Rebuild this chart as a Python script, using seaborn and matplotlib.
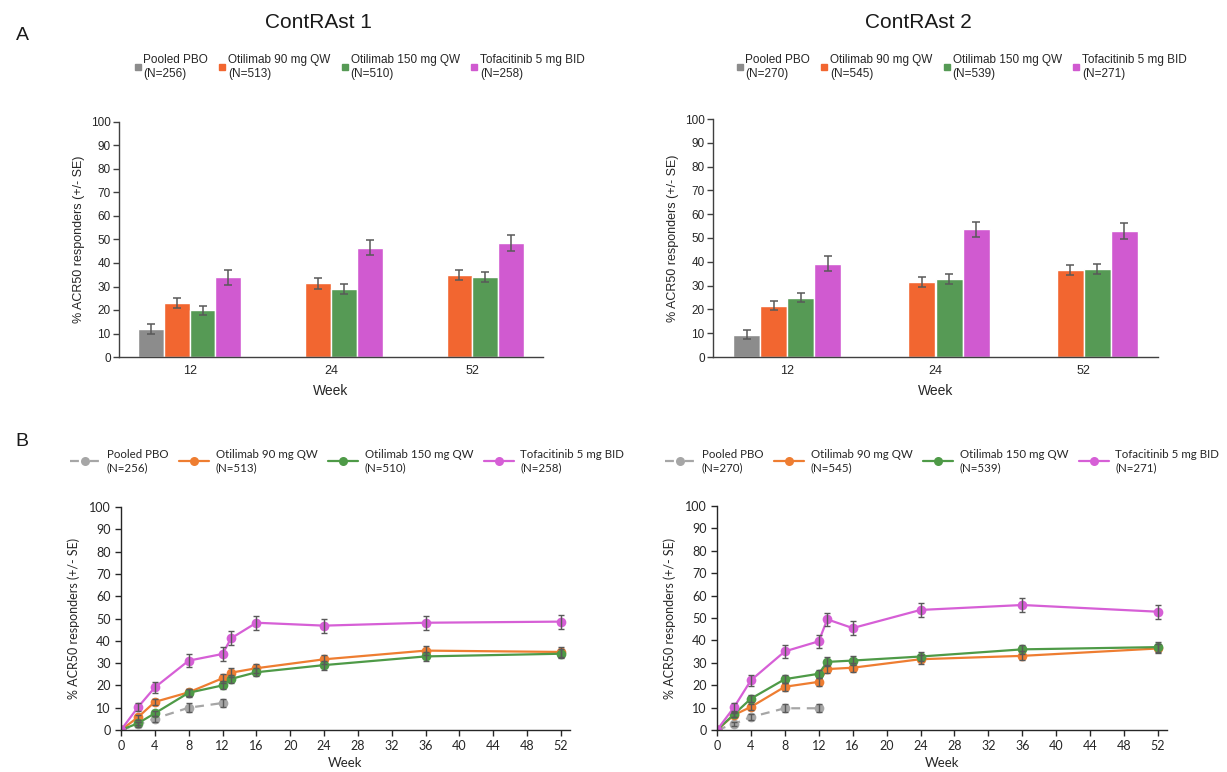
import numpy as np
import pandas as pd
import matplotlib
matplotlib.use("Agg")
import matplotlib.pyplot as plt
from matplotlib.lines import Line2D
import seaborn as sns

# ---------------- data ----------------
arms = ["Pooled PBO", "Otilimab 90 mg QW", "Otilimab 150 mg QW", "Tofacitinib 5 mg BID"]
n_c1 = ["256", "513", "510", "258"]
n_c2 = ["270", "545", "539", "271"]
bar_weeks = ["12", "24", "52"]

# Panel A bars (ContRAst 1)
c1_bar_pbo = [11.9, np.nan, np.nan]
c1_bar_90 = [23.1, 31.3, 34.9]
c1_bar_150 = [19.9, 28.9, 34.1]
c1_bar_tofa = [33.9, 46.5, 48.4]
c1_bar_se_pbo = [2.2, np.nan, np.nan]
c1_bar_se_90 = [2.2, 2.3, 2.3]
c1_bar_se_150 = [2.0, 2.2, 2.2]
c1_bar_se_tofa = [3.1, 3.3, 3.4]

# Panel A bars (ContRAst 2)
c2_bar_pbo = [9.4, np.nan, np.nan]
c2_bar_90 = [21.6, 31.5, 36.4]
c2_bar_150 = [24.9, 32.8, 37.0]
c2_bar_tofa = [39.2, 53.6, 52.8]
c2_bar_se_pbo = [1.9, np.nan, np.nan]
c2_bar_se_90 = [2.0, 2.2, 2.1]
c2_bar_se_150 = [2.0, 2.2, 2.2]
c2_bar_se_tofa = [3.1, 3.2, 3.4]

# Panel B lines
pbo_weeks = [0, 2, 4, 8, 12]
act_weeks = [0, 2, 4, 8, 12, 13, 16, 24, 36, 52]

c1_line_pbo = [0, 2.5, 5.1, 10.0, 12.1]
c1_line_90 = [0, 5.7, 12.6, 16.9, 23.2, 25.7, 27.7, 31.7, 35.6, 35.0]
c1_line_150 = [0, 3.0, 7.5, 16.7, 20.0, 22.9, 25.9, 29.1, 33.0, 34.2]
c1_line_tofa = [0, 10.2, 19.1, 31.1, 34.1, 41.1, 48.1, 46.8, 48.1, 48.6]
c1_line_se_pbo = [0, 1.0, 1.4, 1.9, 2.0]
c1_line_se_90 = [0, 1.0, 1.5, 1.7, 1.9, 1.9, 2.0, 2.1, 2.1, 2.1]
c1_line_se_150 = [0, 0.8, 1.2, 1.7, 1.8, 1.9, 1.9, 2.0, 2.1, 2.1]
c1_line_se_tofa = [0, 1.9, 2.4, 2.9, 3.0, 3.1, 3.1, 3.1, 3.1, 3.1]

c2_line_pbo = [0, 2.7, 5.8, 9.7, 9.7]
c2_line_90 = [0, 6.7, 10.3, 19.3, 21.5, 27.2, 27.8, 31.6, 33.1, 36.4]
c2_line_150 = [0, 7.0, 14.0, 22.7, 25.1, 30.4, 31.0, 32.8, 36.0, 37.0]
c2_line_tofa = [0, 10.1, 22.2, 35.1, 39.6, 49.4, 45.5, 53.6, 55.8, 52.8]
c2_line_se_pbo = [0, 1.0, 1.4, 1.8, 1.8]
c2_line_se_90 = [0, 1.1, 1.3, 1.7, 1.8, 1.9, 1.9, 2.0, 2.0, 2.1]
c2_line_se_150 = [0, 1.1, 1.5, 1.8, 1.9, 2.0, 2.0, 2.0, 2.1, 2.1]
c2_line_se_tofa = [0, 1.8, 2.5, 2.9, 3.0, 3.0, 3.0, 3.0, 3.1, 3.1]

bar_colors = ["#8c8c8c", "#f26630", "#569a55", "#d05ad0"]
line_colors = ["#a6a6a6", "#ee7d31", "#4e9a47", "#d65fd6"]
err_color = "#595959"

# ---------------- helpers ----------------
sns.set_style("white")
plt.rcParams["font.family"] = ["Liberation Sans", "DejaVu Sans"]
LINE_FONT = ["Lato", "DejaVu Sans"]

fig = plt.figure(figsize=(12.27, 7.72), dpi=100)


def bar_panel(rect, vals, ses, ns):
    ax = fig.add_axes(rect)
    rows = []
    for arm, v, s in zip(arms, vals, ses):
        for w, vv, ss in zip(bar_weeks, v, s):
            rows.append({"Week": w, "Arm": arm, "val": vv, "se": ss})
    df = pd.DataFrame(rows)
    sns.barplot(data=df, x="Week", y="val", hue="Arm", hue_order=arms,
                order=bar_weeks, palette=bar_colors, width=0.73, gap=0,
                errorbar=None, legend=False, ax=ax, saturation=1)
    # SE bars on each drawn bar
    for arm, cont in zip(arms, ax.containers):
        sub = df[df["Arm"] == arm]
        for bar in cont:
            xc = bar.get_x() + bar.get_width() / 2
            h = bar.get_height()
            if np.isnan(h):
                continue
            idx = int(round(xc))
            se = sub[sub["Week"] == bar_weeks[idx]]["se"].values[0]
            ax.errorbar(xc, h, yerr=se, fmt="none", ecolor=err_color,
                        elinewidth=1.1, capsize=3, capthick=1.1)
    ax.set_ylim(0, 100)
    ax.set_yticks(range(0, 101, 10))
    ax.set_xlim(-0.5, 2.5)
    for sp in ["top", "right"]:
        ax.spines[sp].set_visible(False)
    for sp in ["left", "bottom"]:
        ax.spines[sp].set_color("#404040")
        ax.spines[sp].set_linewidth(1.0)
    ax.tick_params(axis="y", left=True, length=4, width=1, color="#404040",
                   labelsize=8.5, labelcolor="#262626", pad=2)
    ax.tick_params(axis="x", bottom=False, labelsize=9, labelcolor="#262626", pad=2)
    ax.set_ylabel("% ACR50 responders (+/- SE)", fontsize=9, color="#262626", labelpad=4)
    ax.set_xlabel("Week", fontsize=10, color="#262626", labelpad=5)
    return ax


def line_panel(rect, series, ses, ns):
    ax = fig.add_axes(rect)
    rows = []
    for arm, v, s in zip(arms, series, ses):
        wk = pbo_weeks if arm == arms[0] else act_weeks
        for w, vv, ss in zip(wk, v, s):
            rows.append({"Week": w, "Arm": arm, "val": vv, "se": ss})
    df = pd.DataFrame(rows)
    sns.lineplot(data=df, x="Week", y="val", hue="Arm", hue_order=arms,
                 style="Arm", style_order=arms,
                 dashes={arms[0]: (4, 3), arms[1]: "", arms[2]: "", arms[3]: ""},
                 markers={a: "o" for a in arms}, markersize=7, markeredgewidth=0,
                 palette=line_colors, linewidth=1.6, legend=False, ax=ax,
                 errorbar=None)
    for arm in arms:
        sub = df[(df["Arm"] == arm) & (df["Week"] > 0)]
        ax.errorbar(sub["Week"], sub["val"], yerr=sub["se"], fmt="none",
                    ecolor=err_color, elinewidth=1.0, capsize=2.5, capthick=1.0,
                    zorder=5)
    ax.set_ylim(0, 100)
    ax.set_yticks(range(0, 101, 10))
    ax.set_xlim(0, 53)
    ax.set_xticks(range(0, 53, 4))
    for sp in ["top", "right"]:
        ax.spines[sp].set_visible(False)
    for sp in ["left", "bottom"]:
        ax.spines[sp].set_color("#262626")
        ax.spines[sp].set_linewidth(1.0)
    ax.tick_params(axis="both", length=4, width=1, color="#262626",
                   labelsize=9, labelcolor="#262626", bottom=True, left=True)
    for lab in ax.get_xticklabels() + ax.get_yticklabels():
        lab.set_family(LINE_FONT)
    ax.set_ylabel("% ACR50 responders (+/- SE)", fontsize=9, color="#262626",
                  family=LINE_FONT, labelpad=6)
    ax.set_xlabel("Week", fontsize=9.5, color="#262626",
                  family=LINE_FONT, labelpad=3)
    return ax


def bar_legend(x, y, ns):
    handles = [Line2D([], [], marker="s", linestyle="none", color=c, markersize=5)
               for c in bar_colors]
    labels = [f"{a}\n(N={n})" for a, n in zip(arms, ns)]
    fig.legend(handles, labels, loc="upper left", bbox_to_anchor=(x, y),
               ncol=4, frameon=False, fontsize=8.5, handlelength=0.6,
               handletextpad=0.2, columnspacing=0.9, labelcolor="#262626",
               borderaxespad=0, borderpad=0)


def line_legend(x, y, ns):
    handles = []
    for i, c in enumerate(line_colors):
        ls = (0, (4, 5)) if i == 0 else "-"
        handles.append(Line2D([], [], marker="o", linestyle=ls, color=c,
                              markersize=6.5, markeredgewidth=0, linewidth=1.6))
    labels = [f"{a}\n(N={n})" for a, n in zip(arms, ns)]
    fig.legend(handles, labels, loc="upper left", bbox_to_anchor=(x, y),
               ncol=4, frameon=False, handlelength=2.6, handletextpad=0.6,
               columnspacing=0.9, labelcolor="#262626", borderaxespad=0,
               borderpad=0, prop={"family": LINE_FONT, "size": 8.3})


W, H = 1227, 772


def rect(x0, x1, ytop, ybot):
    return [x0 / W, 1 - ybot / H, (x1 - x0) / W, (ybot - ytop) / H]


bar_panel(rect(119, 543, 122, 357),
          [c1_bar_pbo, c1_bar_90, c1_bar_150, c1_bar_tofa],
          [c1_bar_se_pbo, c1_bar_se_90, c1_bar_se_150, c1_bar_se_tofa], n_c1)
bar_panel(rect(713, 1158, 119, 357),
          [c2_bar_pbo, c2_bar_90, c2_bar_150, c2_bar_tofa],
          [c2_bar_se_pbo, c2_bar_se_90, c2_bar_se_150, c2_bar_se_tofa], n_c2)

line_panel(rect(121, 569.5, 507, 730),
           [c1_line_pbo, c1_line_90, c1_line_150, c1_line_tofa],
           [c1_line_se_pbo, c1_line_se_90, c1_line_se_150, c1_line_se_tofa], n_c1)
line_panel(rect(717, 1166.5, 506, 730),
           [c2_line_pbo, c2_line_90, c2_line_150, c2_line_tofa],
           [c2_line_se_pbo, c2_line_se_90, c2_line_se_150, c2_line_se_tofa], n_c2)

bar_legend(134 / W, 1 - 54 / H, n_c1)
bar_legend(736 / W, 1 - 54 / H, n_c2)
line_legend(70 / W, 1 - 449 / H, n_c1)
line_legend(665 / W, 1 - 449 / H, n_c2)

fig.text(318 / W, 1 - 22 / H, "ContRAst 1", ha="center", va="center", fontsize=15, color="#1a1a1a")
fig.text(918 / W, 1 - 22 / H, "ContRAst 2", ha="center", va="center", fontsize=15, color="#1a1a1a")
fig.text(22 / W, 1 - 36 / H, "A", ha="center", va="center", fontsize=14, color="#1a1a1a")
fig.text(22 / W, 1 - 441 / H, "B", ha="center", va="center", fontsize=14, color="#1a1a1a")

fig.savefig("out.png", dpi=100, facecolor="white")
